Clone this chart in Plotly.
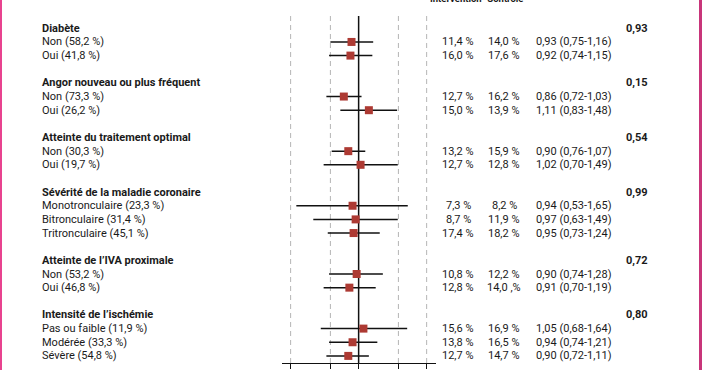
import math
import plotly.graph_objects as go

# ---------------- data ----------------
groups = ["Diabète", "Angor nouveau ou plus fréquent", "Atteinte du traitement optimal",
          "Sévérité de la maladie coronaire", "Atteinte de l’IVA proximale", "Intensité de l’ischémie"]
p_values = ["0,93", "0,15", "0,54", "0,99", "0,72", "0,80"]
sub_labels = [
    ["Non (58,2 %)", "Oui (41,8 %)"],
    ["Non (73,3 %)", "Oui (26,2 %)"],
    ["Non (30,3 %)", "Oui (19,7 %)"],
    ["Monotronculaire (23,3 %)", "Bitronculaire (31,4 %)", "Tritronculaire (45,1 %)"],
    ["Non (53,2 %)", "Oui (46,8 %)"],
    ["Pas ou faible (11,9 %)", "Modérée (33,3 %)", "Sévère (54,8 %)"],
]
intervention = ["11,4 %", "16,0 %", "12,7 %", "15,0 %", "13,2 %", "12,7 %", "7,3 %", "8,7 %",
                "17,4 %", "10,8 %", "12,8 %", "15,6 %", "13,8 %", "12,7 %"]
controle = ["14,0 %", "17,6 %", "16,2 %", "13,9 %", "15,9 %", "12,8 %", "8,2 %", "11,9 %",
            "18,2 %", "12,2 %", "14,0 ,%", "16,9 %", "16,5 %", "14,7 %"]
hr_text = ["0,93 (0,75-1,16)", "0,92 (0,74-1,15)", "0,86 (0,72-1,03)", "1,11 (0,83-1,48)",
           "0,90 (0,76-1,07)", "1,02 (0,70-1,49)", "0,94 (0,53-1,65)", "0,97 (0,63-1,49)",
           "0,95 (0,73-1,24)", "0,90 (0,74-1,28)", "0,91 (0,70-1,19)", "1,05 (0,68-1,64)",
           "0,94 (0,74-1,21)", "0,90 (0,72-1,11)"]
# point estimates as drawn
hr_point = [0.93, 0.92, 0.86, 1.11, 0.90, 1.02, 0.94, 0.97, 0.95, 0.98, 0.91, 1.05, 0.94, 0.90]
ci_low = [0.75, 0.74, 0.72, 0.83, 0.76, 0.70, 0.53, 0.63, 0.73, 0.74, 0.70, 0.68, 0.74, 0.72]
ci_high = [1.16, 1.15, 1.03, 1.48, 1.07, 1.49, 1.65, 1.49, 1.24, 1.28, 1.19, 1.64, 1.21, 1.11]
ref_lines = [0.5, 0.75, 1.5, 2]
tick_vals = [0.5, 0.75, 1, 1.5, 2]
col_headers = ["Intervention", "Contrôle"]

# ---------------- layout rows ----------------
header_rows = []
item_rows = []
r = 0
for labs in sub_labels:
    header_rows.append(r)
    r += 1
    for _ in labs:
        item_rows.append(r)
        r += 1
    r += 1

W, H = 702, 370
FONT = "Roboto, 'Open Sans', sans-serif"
TXT = "#1a1a1a"

fig = go.Figure()

# whiskers
wx, wy = [], []
for lo, hi, yy in zip(ci_low, ci_high, item_rows):
    wx += [lo, hi, None]
    wy += [yy, yy, None]
fig.add_trace(go.Scatter(x=wx, y=wy, mode="lines", line=dict(color="#111111", width=1.5),
                         hoverinfo="skip"))
fig.add_trace(go.Scatter(x=hr_point, y=item_rows, mode="markers",
                         marker=dict(symbol="square", size=8, color="#ad3a33",
                                     line=dict(width=0))))

top_row = -0.9
bottom_row = 24.52
shapes = []
for v in ref_lines:
    shapes.append(dict(type="line", xref="x", yref="y", x0=v, x1=v, y0=top_row, y1=bottom_row,
                       line=dict(color="#b5b5b5", width=1, dash="5px,4px"), layer="below"))
shapes.append(dict(type="line", xref="x", yref="y", x0=1, x1=1, y0=top_row, y1=bottom_row,
                   line=dict(color="#111111", width=1.5), layer="below"))
# pink page borders
shapes.append(dict(type="rect", xref="paper", yref="paper", x0=0, x1=2 / W, y0=0, y1=1,
                   fillcolor="#e8438f", line=dict(width=0)))
shapes.append(dict(type="rect", xref="paper", yref="paper", x0=699 / W, x1=1, y0=0, y1=1,
                   fillcolor="#c8357a", line=dict(width=0)))

ann = []
fs = 11
for g, p, hr in zip(groups, p_values, header_rows):
    ann.append(dict(x=40 / W, y=hr, xref="paper", yref="y", text="<b>%s</b>" % g,
                    xanchor="left", yanchor="middle", showarrow=False,
                    font=dict(family=FONT, size=fs, color=TXT)))
    ann.append(dict(x=624 / W, y=hr, xref="paper", yref="y", text="<b>%s</b>" % p,
                    xanchor="left", yanchor="middle", showarrow=False,
                    font=dict(family=FONT, size=fs, color=TXT)))
flat_labels = [l for labs in sub_labels for l in labs]
for lab, iv, cv, ht, yy in zip(flat_labels, intervention, controle, hr_text, item_rows):
    ann.append(dict(x=40 / W, y=yy, xref="paper", yref="y", text=lab, xanchor="left",
                    yanchor="middle", showarrow=False, font=dict(family=FONT, size=fs, color=TXT)))
    ann.append(dict(x=458 / W, y=yy, xref="paper", yref="y", text=iv, xanchor="center",
                    yanchor="middle", showarrow=False, font=dict(family=FONT, size=fs, color=TXT)))
    ann.append(dict(x=504 / W, y=yy, xref="paper", yref="y", text=cv, xanchor="center",
                    yanchor="middle", showarrow=False, font=dict(family=FONT, size=fs, color=TXT)))
    ann.append(dict(x=534 / W, y=yy, xref="paper", yref="y", text=ht, xanchor="left",
                    yanchor="middle", showarrow=False, font=dict(family=FONT, size=fs, color=TXT)))
for txt, cx in zip(col_headers, [456, 505]):
    ann.append(dict(x=cx / W, y=1 - 6 / H, xref="paper", yref="paper", text="<b>%s</b>" % txt,
                    xanchor="center", yanchor="bottom", showarrow=False,
                    font=dict(family=FONT, size=9.5, color=TXT)))

fig.update_layout(
    width=W, height=H, margin=dict(l=0, r=0, t=0, b=0),
    paper_bgcolor="white", plot_bgcolor="white", showlegend=False,
    shapes=shapes, annotations=ann,
    xaxis=dict(type="log", domain=[282 / W, 436 / W],
               range=[math.log10(0.458), math.log10(2.2)],
               showline=True, linecolor="#111111", linewidth=1.2,
               ticks="outside", ticklen=5, tickcolor="#111111", tickwidth=1.2,
               tickvals=tick_vals, showticklabels=False, showgrid=False, zeroline=False),
    yaxis=dict(domain=[7 / H, 1], range=[bottom_row, -2.073], visible=False),
)

fig.write_html("out.html", config={"displayModeBar": False},
               post_script="document.body.style.margin='0';document.body.style.padding='0';document.body.style.overflow='hidden';")
